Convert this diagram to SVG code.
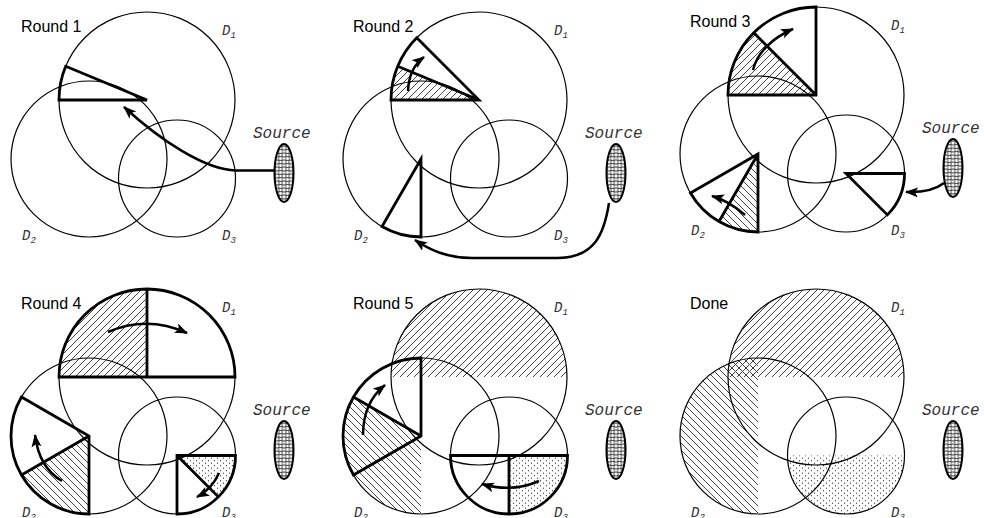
<svg xmlns="http://www.w3.org/2000/svg" xmlns:xlink="http://www.w3.org/1999/xlink" width="984" height="518" viewBox="0 0 984 518">
<style>
.title{font-family:"Liberation Sans",Arial,sans-serif;font-size:16px;fill:#000}
.dl{font-family:"Liberation Mono","Courier New",monospace;font-style:italic;font-size:14px;fill:#333}
.sub{font-size:9px}
.src{font-family:"Liberation Mono","Courier New",monospace;font-style:italic;font-size:16px;fill:#333}
.circ{fill:none;stroke:#000;stroke-width:1.2}
.thick{fill:none;stroke:#000;stroke-width:2.8;stroke-linejoin:miter}
.arrow{fill:none;stroke:#000;stroke-width:2.5;marker-end:url(#ah)}
.hf{fill:url(#hatchF);stroke:none}
.hb{fill:url(#hatchB);stroke:none}
.dots{fill:url(#dots);stroke:none}
</style>
<defs>
<pattern id="hatchF" patternUnits="userSpaceOnUse" width="7" height="7">
<path d="M0,7 L7,0 M-1,1 L1,-1 M6,8 L8,6" stroke="#444" stroke-width="1"/>
</pattern>
<pattern id="hatchB" patternUnits="userSpaceOnUse" width="7" height="7">
<path d="M0,0 L7,7 M-1,6 L1,8 M6,-1 L8,1" stroke="#444" stroke-width="1"/>
</pattern>
<pattern id="dots" patternUnits="userSpaceOnUse" width="6" height="5">
<circle cx="1.5" cy="1.2" r="0.6" fill="#333"/>
<circle cx="4.5" cy="3.7" r="0.6" fill="#333"/>
</pattern>
<pattern id="xc" patternUnits="userSpaceOnUse" width="7" height="7" x="0.5" y="1">
<rect width="7" height="7" fill="#fff"/>
<path d="M0,0 L7,7 M7,0 L0,7" stroke="#222" stroke-width="1.1"/>
<circle cx="3.5" cy="3.5" r="1.8" fill="#fff" stroke="#222" stroke-width="0.8"/>
<circle cx="0" cy="0" r="1.8" fill="#fff" stroke="#222" stroke-width="0.8"/>
<circle cx="7" cy="0" r="1.8" fill="#fff" stroke="#222" stroke-width="0.8"/>
<circle cx="0" cy="7" r="1.8" fill="#fff" stroke="#222" stroke-width="0.8"/>
<circle cx="7" cy="7" r="1.8" fill="#fff" stroke="#222" stroke-width="0.8"/>
</pattern>
<marker id="ah" markerUnits="userSpaceOnUse" markerWidth="14" markerHeight="11" refX="12" refY="5" orient="auto">
<path d="M0,0 L13,5 L0,10 L3,5 Z" fill="#000"/>
</marker>
<g id="circles">
<circle class="circ" cx="147" cy="100" r="88"/>
<circle class="circ" cx="89" cy="159" r="78"/>
<circle class="circ" cx="177" cy="178.5" r="58.5"/>
</g>
<g id="labels">
<text class="dl" x="222" y="35">D<tspan class="sub" dy="3">1</tspan></text>
<text class="dl" x="22" y="240">D<tspan class="sub" dy="3">2</tspan></text>
<text class="dl" x="222" y="240">D<tspan class="sub" dy="3">3</tspan></text>
<text class="src" x="253" y="138">Source</text>
<ellipse cx="284" cy="173" rx="9.5" ry="29" fill="url(#xc)" stroke="#000" stroke-width="2"/>
</g>
</defs>

<g id="round1" transform="translate(0,0)">
<text class="title" x="21" y="32">Round 1</text>
<use href="#labels"/>
<use href="#circles"/>
<path class="thick" d="M147,100 L59,100 A88,88 0 0 1 65.70,66.32 Z"/>
<g id="connectors-r1">
<path class="arrow" d="M274,170.5 L236,170.5 C205,170 160,140 124,107"/>
</g>
</g>

<g id="round2" transform="translate(332,0)">
<text class="title" x="21" y="32">Round 2</text>
<use href="#labels"/>
<path class="hf" d="M147,100 L59,100 A88,88 0 0 1 65.70,66.32 Z"/>
<use href="#circles"/>
<path class="thick" d="M147,100 L59,100 A88,88 0 0 1 84.77,37.77 Z M147,100 L65.70,66.32"/>
<path class="thick" d="M89,159 L89,237 A78,78 0 0 1 50,226.55 Z"/>
<g id="connectors-r2">
<path class="arrow" d="M76,91 Q77,68 92,57"/>
<path class="arrow" d="M277,203 C272,235 262,258 225,258 L140,258 C115,258 98,250 83,240"/>
</g>
</g>

<g id="round3" transform="translate(669,-5)">
<text class="title" x="21" y="32">Round 3</text>
<use href="#labels"/>
<path class="hf" d="M147,100 L59,100 A88,88 0 0 1 84.77,37.77 Z"/>
<path class="hb" d="M89,159 L89,237 A78,78 0 0 1 50,226.55 Z"/>
<use href="#circles"/>
<path class="thick" d="M147,100 L59,100 A88,88 0 0 1 147,12 Z M147,100 L84.77,37.77"/>
<path class="thick" d="M89,159 L89,237 A78,78 0 0 1 21.45,198 Z M89,159 L50,226.55"/>
<path class="thick" d="M177,178.5 L235.5,178.5 A58.5,58.5 0 0 1 218.37,219.87 Z"/>
<g id="connectors-r3">
<path class="arrow" d="M84,75 C88,58 103,43 124,34"/>
<path class="arrow" d="M76,220 Q60,206 43,201"/>
<path class="arrow" d="M275,188 Q262,198 237,197"/>
</g>
</g>

<g id="round4" transform="translate(0,277)">
<text class="title" x="21" y="32">Round 4</text>
<use href="#labels"/>
<path class="hf" d="M147,100 L59,100 A88,88 0 0 1 147,12 Z"/>
<path class="hb" d="M89,159 L89,237 A78,78 0 0 1 21.45,198 Z"/>
<path class="dots" d="M177,178.5 L235.5,178.5 A58.5,58.5 0 0 1 218.37,219.87 Z"/>
<use href="#circles"/>
<path class="thick" d="M59,100 A88,88 0 0 1 235,100 Z M147,100 L147,12"/>
<path class="thick" d="M89,159 L89,237 A78,78 0 0 1 21.45,120 Z M89,159 L21.45,198"/>
<path class="thick" d="M177,178.5 L235.5,178.5 A58.5,58.5 0 0 1 177,237 Z M177,178.5 L218.37,219.87"/>
<g id="connectors-r4">
<path class="arrow" d="M108,55 Q147,38 187,56"/>
<path class="arrow" d="M62,204 C48,196 38,182 35,158"/>
<path class="arrow" d="M219,196 Q212,212 197,220"/>
</g>
</g>

<g id="round5" transform="translate(332,277)">
<text class="title" x="21" y="32">Round 5</text>
<use href="#labels"/>
<path class="hf" d="M59,100 A88,88 0 0 1 235,100 Z"/>
<path class="hb" d="M89,159 L89,237 A78,78 0 0 1 21.45,120 Z"/>
<path class="dots" d="M177,178.5 L235.5,178.5 A58.5,58.5 0 0 1 177,237 Z"/>
<use href="#circles"/>
<path class="thick" d="M89,159 L21.45,198 A78,78 0 0 1 89,81 Z M89,159 L21.45,120"/>
<path class="thick" d="M235.5,178.5 A58.5,58.5 0 0 1 118.5,178.5 Z M177,178.5 L177,237"/>
<g id="connectors-r5">
<path class="arrow" d="M31,158 C31,138 38,120 53,108"/>
<path class="arrow" d="M207,204 Q180,216 150,207"/>
</g>
</g>

<g id="done" transform="translate(669,277)">
<text class="title" x="21" y="32">Done</text>
<use href="#labels"/>
<path class="hf" d="M59,100 A88,88 0 0 1 235,100 Z"/>
<path class="hb" d="M89,81 A78,78 0 0 0 89,237 Z"/>
<path class="dots" d="M235.5,178.5 A58.5,58.5 0 0 1 118.5,178.5 Z"/>
<use href="#circles"/>
</g>
</svg>
